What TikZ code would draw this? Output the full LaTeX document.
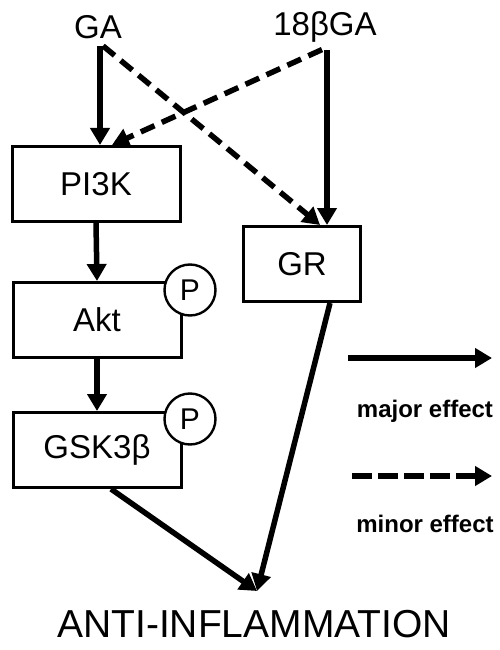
\documentclass[tikz,border=0pt]{standalone}
\usepackage{fontspec}
\setmainfont{Liberation Sans}
\usetikzlibrary{arrows.meta}

\begin{document}
\begin{tikzpicture}[
    x=1pt, y=-1pt,
    every node/.style={align=center, font=\fontsize{33}{38}\selectfont},
    box/.style={draw, line width=3pt, minimum width=168pt, minimum height=75pt, inner sep=0pt},
    phos/.style={draw, line width=2.4pt, circle, fill=white, minimum size=51pt, inner sep=0pt},
    major/.style={line width=5.5pt, -{Triangle[length=17pt,width=19pt]}},
    minor/.style={line width=5.5pt, dash pattern=on 15pt off 8pt, -{Triangle[length=17pt,width=19pt]}},
    legend/.style={font=\bfseries\fontsize{24}{28}\selectfont, inner sep=0pt}
]
\useasboundingbox (0,0) rectangle (500,650);

% inputs
\node[inner sep=0pt, inner ysep=7pt] (ga) at (98,27) {GA};
\node[inner sep=0pt, inner ysep=7pt] (gb) at (325,27) {18βGA};

% pathway boxes
\node[box] (pi3k) at (96,184) {PI3K};
\node[box] (akt) at (97,320) {Akt};
\node[box] (gsk) at (97,450) {GSK3β};
\node[box, minimum width=117pt] (gr) at (302,264) {GR};
\node[phos, font=\fontsize{30}{34}\selectfont] (pakt) at (190,290) {P};
\node[phos, font=\fontsize{30}{34}\selectfont] (pgsk) at (190,419) {P};

\node[font=\fontsize{39}{44}\selectfont] (anti) at (254,624) {ANTI-INFLAMMATION};
\coordinate (conv) at (257,591);

% arrows
\draw[major] ([xshift=2pt]ga.south) -- ([xshift=2pt]ga.south |- pi3k.north);
\draw[major] ([xshift=2pt]gb.south) -- ([xshift=2pt]gb.south |- gr.north);
\draw[minor] ([xshift=5pt]ga.south) -- ([xshift=-5pt]gb.south |- gr.north);
\draw[minor] ([xshift=-3pt]gb.south) -- ([xshift=14pt]ga.south |- pi3k.north);
\draw[major] (pi3k.south) -- (akt.north);
\draw[major] (akt.south) -- (gsk.north);
\draw[major] ([xshift=14pt]gsk.south) -- (conv);
\draw[major] ([xshift=28pt]gr.south) -- (conv);

% legend
\coordinate (la) at (348,358);
\coordinate (lb) at (492,358);
\coordinate (lc) at (352,476);
\coordinate (ld) at (492,476);
\draw[major] (la) -- (lb);
\node[legend] (maj) at (425,411) {major effect};
\draw[minor, dash pattern=on 20pt off 6pt] (lc) -- (ld);
\node[legend] (min) at (425,524) {minor effect};
\end{tikzpicture}
\end{document}
